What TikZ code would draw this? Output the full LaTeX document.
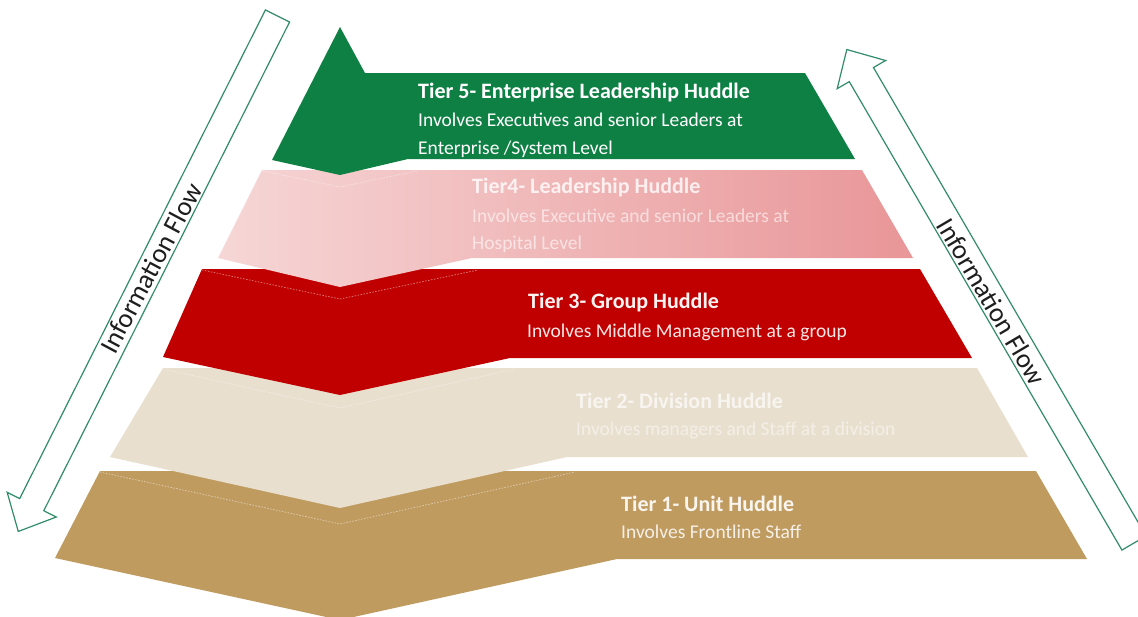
\documentclass[tikz,border=0pt]{standalone}
\usepackage{fontspec}
\setmainfont{Carlito}
\definecolor{tierGreen}{RGB}{15,128,68}
\definecolor{tierPinkL}{RGB}{246,214,214}
\definecolor{tierPinkD}{RGB}{233,150,152}
\definecolor{tierRed}{RGB}{192,0,0}
\definecolor{tierBeige}{RGB}{232,223,207}
\definecolor{tierTan}{RGB}{192,155,96}
\definecolor{flowLine}{RGB}{50,140,105}
\definecolor{flowText}{RGB}{30,30,30}
\begin{document}
\begin{tikzpicture}[x=1pt,y=-1pt,
  slab/.style={draw=none},
  ridge/.style={draw=white, opacity=0.5, line width=0.7pt, dash pattern=on 1.5pt off 1.5pt},
  flowarrow/.style={draw=flowLine, line width=1.2pt, fill=white, line join=miter},
  flowlabel/.style={inner sep=0, text=flowText, font=\fontsize{27}{30}\selectfont},
  tiertitle/.style={anchor=base west, inner sep=0, font=\fontsize{22}{26}\selectfont\bfseries},
  tierbody/.style={anchor=base west, inner sep=0, font=\fontsize{19.5}{24}\selectfont}]
\useasboundingbox (0,0) rectangle (1138,616);
\clip (0,0) rectangle (1138,616);

% ---- pyramid slabs, bottom to top ----
% Tier 1
\fill[tierTan] (100,471) -- (1036,471) -- (1087,559) -- (617,559) -- (340,620) -- (55,558) -- cycle;
\draw[ridge] (100,472) -- (340,524) -- (575,472);
% Tier 2
\fill[tierBeige] (163,368) -- (977,368) -- (1028,457) -- (567,457) -- (340,508) -- (110,457) -- cycle;
\draw[ridge] (163,369) -- (340,408) -- (515,369);
% Tier 3
\fill[tierRed] (202,269) -- (920,269) -- (972,358) -- (510,358) -- (340,395) -- (163,357) -- cycle;
\draw[ridge] (202,270) -- (340,299) -- (478,270);
% Tier 4
\path[left color=tierPinkL, right color=tierPinkD] (262,170) -- (862,170) -- (913,258) -- (472,258) -- (340,287) -- (218,258) -- cycle;
\draw[ridge] (263,171) -- (340,187) -- (417,171);
% Tier 5
\fill[tierGreen] (340,27) -- (365,73) -- (805,73) -- (855,159) -- (408,159) -- (340,175) -- (272,160) -- cycle;

% ---- tier labels ----
\node[tiertitle, text=white] (t5title) at (418,98) {Tier 5- Enterprise Leadership Huddle};
\node[tierbody, text=white] (t5body1) at (418,126) {Involves Executives and senior Leaders at};
\node[tierbody, text=white] (t5body2) at (418,154) {Enterprise /System Level};

\node[tiertitle, text=white, text opacity=0.8] (t4title) at (472,193) {Tier4- Leadership Huddle};
\node[tierbody, text=white, text opacity=0.6] (t4body1) at (472,222) {Involves Executive and senior Leaders at};
\node[tierbody, text=white, text opacity=0.6] (t4body2) at (472,249) {Hospital Level};

\node[tiertitle, text=white, text opacity=0.95] (t3title) at (528,308) {Tier 3- Group Huddle};
\node[tierbody, text=white, text opacity=0.9] (t3body1) at (527,337) {Involves Middle Management at a group};

\node[tiertitle, text=white, text opacity=0.7] (t2title) at (576,408) {Tier 2- Division Huddle};
\node[tierbody, text=white, text opacity=0.5] (t2body1) at (576,435) {Involves managers and Staff at a division};

\node[tiertitle, text=white, text opacity=0.9] (t1title) at (621,511) {Tier 1- Unit Huddle};
\node[tierbody, text=white, text opacity=0.85] (t1body1) at (621,538) {Involves Frontline Staff};

% ---- information flow arrows ----
\begin{scope}[shift={(277.5,16)}, rotate=243.3]
  \draw[flowarrow] (0,-13.5) -- (547,-13.5) -- (547,-27.5) -- (577,0) -- (547,27.5) -- (547,13.5) -- (0,13.5) -- cycle;
\end{scope}
\node[flowlabel, rotate=62] (flowdown) at (151,268) {Information Flow};

\begin{scope}[shift={(1134,543)}, rotate=120.2]
  \draw[flowarrow] (0,-14) -- (542,-14) -- (542,-28) -- (571,0) -- (542,28) -- (542,14) -- (0,14) -- cycle;
\end{scope}
\node[flowlabel, rotate=-59.5] (flowup) at (991.5,301.5) {Information Flow};
\end{tikzpicture}
\end{document}
